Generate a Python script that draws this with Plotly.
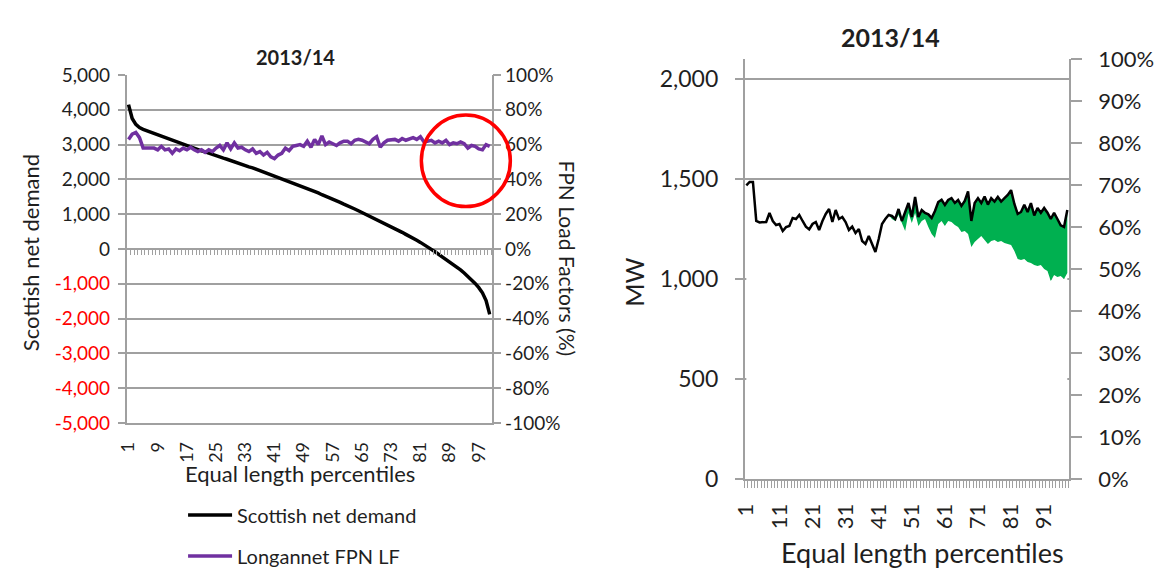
import plotly.graph_objects as go

W, H = 1155, 579

# ---------------- data ----------------
left_categories = list(range(1, 101))
scottish_net_demand = [
    4150, 3750, 3580, 3490, 3440, 3400, 3360, 3320, 3280, 3250,
    3210, 3170, 3130, 3090, 3050, 3000, 2960, 2920, 2880, 2850,
    2820, 2790, 2750, 2710, 2680, 2650, 2610, 2580, 2540, 2500,
    2460, 2420, 2390, 2360, 2330, 2290, 2250, 2210, 2180, 2150,
    2110, 2070, 2030, 1990, 1950, 1900, 1860, 1820, 1780, 1740,
    1690, 1650, 1610, 1560, 1520, 1480, 1430, 1390, 1340, 1290,
    1250, 1200, 1150, 1100, 1050, 1000, 950, 890, 840, 790,
    730, 680, 630, 580, 530, 480, 420, 370, 310, 250,
    190, 130, 60, -10, -80, -150, -220, -290, -360, -440,
    -520, -600, -690, -780, -880, -990, -1110, -1260, -1480, -1880,
]
longannet_fpn_lf = [
    63, 66, 67, 64, 58, 58, 57.5, 58, 57, 59,
    57, 57.5, 55, 57.5, 56.5, 58, 57, 58.5, 57, 56,
    57, 55.5, 57, 56, 58, 59.5, 57, 61, 57.5, 61,
    58, 58.5, 57, 56, 57.5, 55, 56, 54, 55.5, 53,
    52, 54, 55, 58, 56.5, 59, 59.5, 60, 59, 62,
    58.5, 63, 60, 65, 60, 61.5, 60.5, 59.5, 61, 62,
    62, 60.5, 62.5, 63, 62.5, 61.5, 60.5, 63, 64.5, 58.5,
    61, 62.5, 62.5, 63, 62, 63.5, 62.5, 63, 64, 63,
    64.5, 61.5, 62, 62.5, 61, 62, 61, 62.5, 60, 61,
    60.5, 61.5, 60.5, 58, 59.5, 59, 57.5, 57, 60, 59,
]
left_tick_values = list(range(1, 101, 8))
left_tick_labels = [str(v) for v in left_tick_values]
left_y_values = [5000, 4000, 3000, 2000, 1000, 0, -1000, -2000, -3000, -4000, -5000]
right_pct_values = list(range(-100, 101, 20))

right_categories = list(range(1, 99))
right_total_mw = [
    1468, 1485, 1485, 1290, 1283, 1285, 1285, 1330, 1290, 1270,
    1275, 1240, 1259, 1265, 1305, 1300, 1320, 1290, 1262, 1248,
    1275, 1285, 1245, 1290, 1325, 1350, 1285, 1345, 1300, 1310,
    1285, 1245, 1262, 1230, 1250, 1190, 1175, 1215, 1170, 1135,
    1200, 1275, 1300, 1320, 1315, 1300, 1350, 1290, 1335, 1380,
    1310, 1410, 1310, 1345, 1330, 1323, 1305, 1340, 1385, 1396,
    1370, 1395, 1404, 1380, 1395, 1365, 1390, 1438, 1290, 1380,
    1404, 1380, 1412, 1372, 1404, 1387, 1410, 1387, 1404, 1420,
    1444, 1375, 1325, 1335, 1371, 1335, 1379, 1318, 1355, 1331,
    1355, 1331, 1300, 1331, 1300, 1268, 1260, 1345,
]
right_lower_mw = [
    1468, 1485, 1485, 1290, 1283, 1285, 1285, 1330, 1290, 1270,
    1275, 1240, 1259, 1265, 1305, 1300, 1320, 1290, 1262, 1248,
    1275, 1285, 1245, 1290, 1325, 1350, 1285, 1345, 1300, 1310,
    1285, 1245, 1262, 1230, 1250, 1190, 1175, 1215, 1170, 1135,
    1200, 1275, 1300, 1320, 1300, 1290, 1320, 1275, 1240, 1330,
    1280, 1330, 1265, 1290, 1300, 1260, 1225, 1205, 1275, 1290,
    1265, 1290, 1285, 1270, 1260, 1235, 1240, 1225, 1160, 1185,
    1200, 1215, 1195, 1175, 1190, 1195, 1185, 1190, 1180, 1175,
    1170, 1140, 1100, 1095, 1100, 1085, 1080, 1070, 1065, 1070,
    1050, 1040, 990, 1020, 1010, 1015, 1000, 1030,
]
right_tick_values = list(range(1, 99, 10))
right_tick_labels = [str(v) for v in right_tick_values]
right_mw_values = [0, 500, 1000, 1500, 2000]

# ---------------- styling helpers ----------------
FONT = "Lato, Carlito, Calibri, sans-serif"
TXT = "#1f1f1f"
GRID = "#a0a0a0"


def px(x):
    return x / W


def py(y):
    return 1 - y / H


fig = go.Figure()

# Left chart traces
fig.add_trace(go.Scatter(
    x=left_categories, y=scottish_net_demand, mode="lines",
    name="Scottish net demand", line=dict(color="black", width=3.5),
    xaxis="x", yaxis="y", legendgroup="a"))
fig.add_trace(go.Scatter(
    x=left_categories, y=longannet_fpn_lf, mode="lines",
    name="Longannet FPN LF", line=dict(color="#7030A0", width=3.5),
    xaxis="x", yaxis="y2", legendgroup="b"))
# helper trace so the zero-line tick axis is rendered
fig.add_trace(go.Scatter(x=[None], y=[None], xaxis="x3", yaxis="y",
                         showlegend=False, hoverinfo="skip"))

# Right chart traces (stacked area: white base, green band, black line)
fig.add_trace(go.Scatter(
    x=right_categories, y=right_lower_mw, mode="lines", fill="tozeroy",
    fillcolor="white", line=dict(width=0, color="white"),
    xaxis="x2", yaxis="y3", showlegend=False, hoverinfo="skip"))
fig.add_trace(go.Scatter(
    x=right_categories, y=right_total_mw, mode="lines", fill="tonexty",
    fillcolor="#00B050", line=dict(width=0, color="#00B050"),
    xaxis="x2", yaxis="y3", showlegend=False, hoverinfo="skip"))
fig.add_trace(go.Scatter(
    x=right_categories, y=right_total_mw, mode="lines",
    line=dict(color="black", width=2.5),
    xaxis="x2", yaxis="y3", showlegend=False))
fig.add_trace(go.Scatter(x=[None], y=[None], xaxis="x2", yaxis="y4",
                         showlegend=False, hoverinfo="skip"))

left_dom_x = [px(115), px(484)]
left_dom_y = [py(429), py(64)]
right_dom_x = [px(740), px(1068)]
right_dom_y = [py(488), py(47)]

left_y_text = []
for v in left_y_values:
    s = f"{v:,}"
    left_y_text.append(f'<span style="color:#FF0000">{s}</span>' if v < 0 else s)

fig.update_layout(
    width=W, height=H,
    margin=dict(l=0, r=0, t=0, b=0),
    paper_bgcolor="white", plot_bgcolor="white",
    font=dict(family=FONT, color=TXT),
    xaxis=dict(
        domain=left_dom_x, anchor="y", range=[0.5, 100.5],
        tickmode="array", tickvals=left_tick_values, ticktext=left_tick_labels,
        tickangle=-90, ticks="", showgrid=False, zeroline=False,
        showline=True, linecolor=GRID, linewidth=1.5,
        tickfont=dict(size=18, color=TXT), ticklabelstandoff=10,
    ),
    xaxis3=dict(
        overlaying="x", anchor="free", position=(left_dom_y[0] + left_dom_y[1]) / 2,
        range=[0.5, 100.5], tickmode="array",
        tickvals=[i + 0.5 for i in range(0, 101)],
        ticks="outside", ticklen=5, tickcolor=GRID, tickwidth=1,
        showticklabels=False, showgrid=False, zeroline=False, showline=False,
    ),
    yaxis=dict(
        domain=left_dom_y, anchor="x", range=[-5000, 5000],
        tickmode="array", tickvals=left_y_values, ticktext=left_y_text,
        ticks="outside", ticklen=7, tickcolor=GRID, tickwidth=1.5,
        showgrid=True, gridcolor=GRID, gridwidth=1.5, zeroline=False,
        showline=True, linecolor=GRID, linewidth=1.5,
        tickfont=dict(size=19, color=TXT), ticklabelstandoff=4,
    ),
    yaxis2=dict(
        overlaying="y", anchor="x", side="right", range=[-100, 100],
        tickmode="array", tickvals=right_pct_values,
        ticktext=[f"{v}%" for v in right_pct_values],
        ticks="outside", ticklen=8, tickcolor=GRID, tickwidth=1.5,
        showgrid=False, zeroline=False,
        showline=True, linecolor=GRID, linewidth=1.5,
        tickfont=dict(size=19, color=TXT),
    ),
    xaxis2=dict(
        domain=right_dom_x, anchor="y3", range=[0.5, 98.5],
        tickmode="array", tickvals=right_tick_values, ticktext=right_tick_labels,
        tickangle=-90, ticks="", showgrid=False, zeroline=False,
        showline=True, linecolor=GRID, linewidth=1.5,
        minor=dict(tickmode="linear", tick0=0.5, dtick=1, ticks="outside",
                   ticklen=7, tickcolor=GRID, tickwidth=1, showgrid=False),
        tickfont=dict(size=22, color=TXT), ticklabelstandoff=14,
    ),
    yaxis3=dict(
        domain=right_dom_y, anchor="x2", range=[0, 2100],
        tickmode="array", tickvals=right_mw_values,
        ticktext=[f"{v:,}" for v in right_mw_values],
        ticks="outside", ticklen=8, tickcolor=GRID, tickwidth=1.5,
        showgrid=True, gridcolor=GRID, gridwidth=1.5, zeroline=False,
        showline=True, linecolor=GRID, linewidth=1.5,
        tickfont=dict(size=23, color=TXT), ticklabelstandoff=12,
    ),
    yaxis4=dict(
        overlaying="y3", anchor="x2", side="right", range=[0, 100],
        tickmode="array", tickvals=list(range(0, 101, 10)),
        ticktext=[f"{v}%" for v in range(0, 101, 10)],
        ticks="outside", ticklen=11, tickcolor=GRID, tickwidth=1.5,
        showgrid=False, zeroline=False,
        showline=True, linecolor=GRID, linewidth=1.5,
        tickfont=dict(size=22, color=TXT), ticklabelstandoff=12,
    ),
    legend=dict(
        x=px(172), y=py(505), xanchor="left", yanchor="top",
        orientation="v", font=dict(size=20, color=TXT),
        tracegroupgap=12, bgcolor="rgba(0,0,0,0)", itemwidth=44,
    ),
    showlegend=True,
)

annotations = [
    dict(text="<b>2013/14</b>", x=px(286), y=py(45), font=dict(size=20)),
    dict(text="<b>2013/14</b>", x=px(887), y=py(24), font=dict(size=25)),
    dict(text="Equal length percentiles", x=px(290), y=py(482), font=dict(size=22)),
    dict(text="Equal length percentiles", x=px(920), y=py(565), font=dict(size=27)),
    dict(text="Scottish net demand", x=px(18), y=py(250), textangle=-90, font=dict(size=22)),
    dict(text="FPN Load Factors (%)", x=px(561), y=py(256), textangle=90, font=dict(size=21)),
    dict(text="MW", x=px(628), y=py(281), textangle=-90, font=dict(size=25)),
]
for a in annotations:
    a.update(xref="paper", yref="paper", showarrow=False,
             xanchor="center", yanchor="middle")
    a["font"].update(family=FONT, color=TXT)
fig.update_layout(annotations=annotations)

# red highlight circle
fig.add_shape(type="circle", xref="paper", yref="paper",
              x0=px(413), x1=px(503), y0=py(202), y1=py(106),
              line=dict(color="#FF0000", width=3.5))

fig.write_html(
    "out.html",
    config={"displayModeBar": False},
    post_script="document.body.style.margin='0';document.body.style.overflow='hidden';",
)
